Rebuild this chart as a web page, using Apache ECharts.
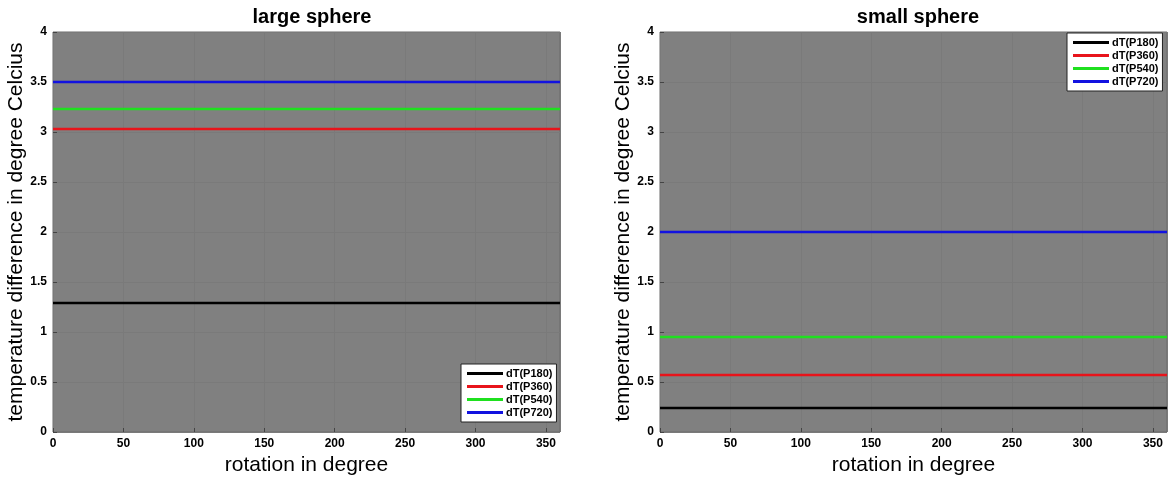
<!DOCTYPE html>
<html><head><meta charset="utf-8">
<script src="https://cdn.jsdelivr.net/npm/echarts@6/dist/echarts.min.js"></script>
<style>html,body{margin:0;padding:0;background:#fff}#c{width:1169px;height:478px}</style>
</head><body><div id="c"></div>
<script>
const rotation = [0, 360];
const seriesNames = ['dT(P180)', 'dT(P360)', 'dT(P540)', 'dT(P720)'];
const seriesColors = ['#000000', '#e8141b', '#1fe01f', '#1212e0'];
const largeValues = [1.29, 3.03, 3.23, 3.50];
const smallValues = [0.24, 0.57, 0.95, 2.00];
const panelTitles = ['large sphere', 'small sphere'];

const font = 'Liberation Sans, Arial, Helvetica, sans-serif';
const chart = echarts.init(document.getElementById('c'));

function grid(left) {
  return {left: left, top: 32, width: 507, height: 400, show: true, outerBoundsMode: 'none',
    containLabel: false,
    backgroundColor: '#808080', borderColor: '#6a6a6a', borderWidth: 1};
}
function xAxis(i) {
  return {gridIndex: i, type: 'value', min: 0, max: 360, interval: 50,
    name: 'rotation in degree', nameLocation: 'middle', nameGap: 21,
    nameTextStyle: {fontSize: 21, color: '#000', fontFamily: font},
    axisLine: {show: false}, axisTick: {show: true, inside: true, length: 4, lineStyle: {color: '#444'}},
    axisLabel: {fontSize: 12, fontWeight: 'bold', color: '#000', fontFamily: font, margin: 6,
      showMaxLabel: false},
    splitLine: {show: true, lineStyle: {color: '#7a7a7a', width: 1}}};
}
function yAxis(i) {
  return {gridIndex: i, type: 'value', min: 0, max: 4, interval: 0.5,
    name: 'temperature difference in degree Celcius', nameLocation: 'middle', nameGap: 25,
    nameTextStyle: {fontSize: 21, color: '#000', fontFamily: font},
    axisLine: {show: false}, axisTick: {show: true, inside: true, length: 4, lineStyle: {color: '#444'}},
    axisLabel: {fontSize: 12, fontWeight: 'bold', color: '#000', fontFamily: font, margin: 6},
    splitLine: {show: true, lineStyle: {color: '#7a7a7a', width: 1}}};
}
function legend(pos) {
  return Object.assign({
    data: seriesNames, orient: 'vertical', icon: 'rect', itemWidth: 36, itemHeight: 3,
    itemGap: 2, padding: [4, 4, 4, 6], backgroundColor: '#fff', borderColor: '#222', borderWidth: 1,
    borderRadius: 0, align: 'left',
    textStyle: {fontSize: 11, fontWeight: 'bold', color: '#000', fontFamily: font, padding: [0, 0, 0, -2]}
  }, pos);
}
const series = [];
[largeValues, smallValues].forEach((vals, gi) => {
  vals.forEach((v, k) => {
    series.push({name: seriesNames[k], type: 'line', xAxisIndex: gi, yAxisIndex: gi,
      data: rotation.map(r => [r, v]), symbol: 'none', silent: true,
      lineStyle: {color: seriesColors[k], width: 2.5}, itemStyle: {color: seriesColors[k]}});
  });
});
chart.setOption({
  animation: false,
  title: [
    {text: panelTitles[0], left: 307, top: 2, textAlign: 'center', textStyle: {fontSize: 20, fontWeight: 'bold', color: '#000', fontFamily: font}},
    {text: panelTitles[1], left: 913, top: 2, textAlign: 'center', textStyle: {fontSize: 20, fontWeight: 'bold', color: '#000', fontFamily: font}}
  ],
  grid: [grid(53), grid(660)],
  xAxis: [xAxis(0), xAxis(1)],
  yAxis: [yAxis(0), yAxis(1)],
  legend: [legend({left: 461, top: 364}), legend({left: 1067, top: 33})],
  series: series
});
</script></body></html>
